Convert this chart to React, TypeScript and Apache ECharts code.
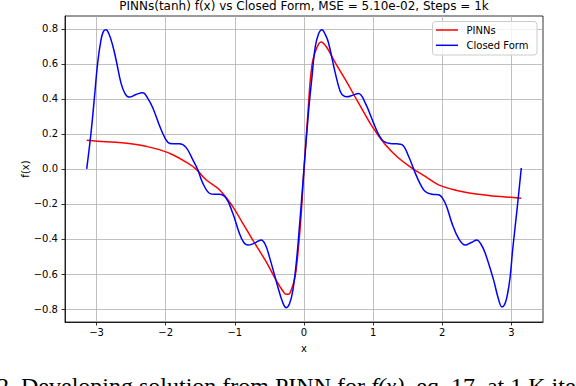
import React, { useEffect, useRef } from "react";
import * as echarts from "echarts";

const titleText = "PINNs(tanh) f(x) vs Closed Form, MSE = 5.10e-02, Steps = 1k";
const xTicks = [-3, -2, -1, 0, 1, 2, 3];
const yTicks = [-0.8, -0.6, -0.4, -0.2, 0, 0.2, 0.4, 0.6, 0.8];
const legendNames = ["PINNs", "Closed Form"];
const yAxisName = "f(x)";

const closedFormX = [
  -3.142, -3.08, -3.033, -2.983, -2.936, -2.9, -2.863, -2.82, -2.77, -2.719, -2.646, -2.588, -2.526,
  -2.429, -2.332, -2.255, -2.187, -2.067, -1.97, -1.894, -1.802, -1.706, -1.609, -1.536, -1.464,
  -1.368, -1.29, -1.224, -1.127, -1.03, -0.934, -0.87, -0.813, -0.721, -0.62, -0.562, -0.5, -0.378,
  -0.31, -0.258, -0.21, -0.161, -0.11, -0.066, 0, 0.066, 0.114, 0.161, 0.21, 0.258, 0.31, 0.354,
  0.451, 0.523, 0.58, 0.62, 0.7, 0.788, 0.885, 1.005, 1.075, 1.15, 1.271, 1.34, 1.416, 1.512, 1.609,
  1.68, 1.753, 1.85, 1.946, 2.043, 2.14, 2.235, 2.332, 2.42, 2.501, 2.56, 2.622, 2.742, 2.81, 2.863,
  2.9, 2.935, 2.98, 3.017, 3.08, 3.142,
];
const closedFormY = [
  0.0, 0.205, 0.397, 0.607, 0.735, 0.785, 0.794, 0.77, 0.71, 0.626, 0.49, 0.43, 0.41, 0.425, 0.435,
  0.4, 0.349, 0.225, 0.152, 0.143, 0.144, 0.123, 0.053, -0.005, -0.081, -0.139, -0.145, -0.145,
  -0.167, -0.253, -0.368, -0.42, -0.435, -0.425, -0.406, -0.43, -0.502, -0.674, -0.76, -0.792, -0.77,
  -0.693, -0.53, -0.33, 0.0, 0.33, 0.52, 0.693, 0.77, 0.794, 0.765, 0.72, 0.55, 0.444, 0.415, 0.412,
  0.42, 0.431, 0.377, 0.263, 0.2, 0.158, 0.144, 0.143, 0.139, 0.072, -0.024, -0.085, -0.129, -0.145,
  -0.148, -0.196, -0.311, -0.397, -0.435, -0.42, -0.406, -0.43, -0.483, -0.635, -0.74, -0.788, -0.775,
  -0.731, -0.62, -0.463, -0.234, 0.005,
];

const pinnsX = [
  -3.142, -2.983, -2.719, -2.477, -2.284, -2.092, -1.898, -1.706, -1.561, -1.416, -1.223, -1.03,
  -0.885, -0.74, -0.548, -0.403, -0.3, -0.258, -0.22, -0.186, -0.15, -0.114, -0.05, 0, 0.05, 0.114,
  0.186, 0.248, 0.33, 0.451, 0.596, 0.788, 0.982, 1.174, 1.367, 1.561, 1.753, 1.946, 2.14, 2.332,
  2.525, 2.718, 2.911, 3.142,
];
const pinnsY = [
  0.163, 0.158, 0.152, 0.142, 0.129, 0.11, 0.081, 0.039, -0.001, -0.062, -0.119, -0.215, -0.311,
  -0.406, -0.53, -0.635, -0.7, -0.716, -0.715, -0.693, -0.65, -0.578, -0.31, 0.0, 0.28, 0.59, 0.693,
  0.725, 0.693, 0.607, 0.511, 0.377, 0.244, 0.139, 0.062, 0.005, -0.043, -0.091, -0.116, -0.133,
  -0.145, -0.154, -0.16, -0.167,
];

const captionText = "2. Developing solution from PINN for {i|f(x)}, eq. 17, at 1 K iterations";

const FONT = "DejaVu Sans";
const minus = (s: string) => s.replace("-", "\u2212");

export default function App() {
  const ref = useRef<HTMLDivElement>(null);
  useEffect(() => {
    if (!ref.current) return;
    const chart = echarts.init(ref.current, null, { renderer: "svg" });
    const pinnsData = pinnsX.map((x, i) => [x, pinnsY[i]]);
    const cfData = closedFormX.map((x, i) => [x, closedFormY[i]]);
    chart.setOption({
      animation: false,
      backgroundColor: "#ffffff",
      grid: {
        left: 65,
        top: 16,
        width: 478,
        height: 306,
        show: true,
        borderColor: "#000000",
        borderWidth: 0.8,
        backgroundColor: "transparent",
      },
      xAxis: {
        type: "value",
        min: -3.456,
        max: 3.456,
        name: "x",
        nameLocation: "middle",
        nameGap: 21,
        nameTextStyle: { fontFamily: FONT, fontSize: 10, color: "#000" },
        axisLine: { onZero: false, lineStyle: { color: "#000", width: 0.8 } },
        axisTick: { show: true, length: 3.5, customValues: xTicks, lineStyle: { color: "#000", width: 0.8 } },
        axisLabel: {
          customValues: xTicks,
          margin: 5,
          fontFamily: FONT,
          fontSize: 10,
          color: "#000",
          formatter: (v: number) => minus(String(Math.round(v))),
        },
        splitLine: { show: true, lineStyle: { color: "#b0b0b0", width: 0.8 } },
      },
      yAxis: {
        type: "value",
        min: -0.874,
        max: 0.873,
        axisLine: { onZero: false, lineStyle: { color: "#000", width: 0.8 } },
        axisTick: { show: true, length: 3.5, customValues: yTicks, lineStyle: { color: "#000", width: 0.8 } },
        axisLabel: {
          customValues: yTicks,
          margin: 7,
          fontFamily: FONT,
          fontSize: 10,
          color: "#000",
          formatter: (v: number) => minus(v.toFixed(1)),
        },
        splitLine: { show: true, lineStyle: { color: "#b0b0b0", width: 0.8 } },
      },
      series: [
        {
          name: legendNames[0],
          type: "line",
          data: pinnsData,
          showSymbol: false,
          smooth: 0.4,
          lineStyle: { color: "#ff0000", width: 1.5 },
          itemStyle: { color: "#ff0000" },
        },
        {
          name: legendNames[1],
          type: "line",
          data: cfData,
          showSymbol: false,
          smooth: 0.4,
          lineStyle: { color: "#0000ff", width: 1.5 },
          itemStyle: { color: "#0000ff" },
        },
      ],
      graphic: [
        {
          type: "text",
          x: 304,
          y: 6,
          z: 100,
          style: {
            text: titleText,
            fontFamily: FONT,
            fontSize: 12,
            fill: "#000",
            textAlign: "center",
            textVerticalAlign: "middle",
          },
        },
        {
          type: "text",
          x: 25.5,
          y: 169,
          rotation: Math.PI / 2,
          z: 100,
          style: {
            text: yAxisName,
            fontFamily: FONT,
            fontSize: 10,
            fill: "#000",
            textAlign: "center",
            textVerticalAlign: "middle",
          },
        },
        {
          type: "rect",
          z: 100,
          shape: { x: 432.5, y: 21.5, width: 104.5, height: 33.5, r: 3 },
          style: { fill: "rgba(255,255,255,0.8)", stroke: "#cccccc", lineWidth: 1 },
        },
        {
          type: "line",
          z: 101,
          shape: { x1: 436, y1: 30, x2: 458, y2: 30 },
          style: { stroke: "#ff0000", lineWidth: 1.5 },
        },
        {
          type: "line",
          z: 101,
          shape: { x1: 436, y1: 45.3, x2: 458, y2: 45.3 },
          style: { stroke: "#0000ff", lineWidth: 1.5 },
        },
        {
          type: "text",
          x: 466.5,
          y: 30,
          z: 101,
          style: { text: legendNames[0], fontFamily: FONT, fontSize: 10, fill: "#000", textVerticalAlign: "middle" },
        },
        {
          type: "text",
          x: 466.5,
          y: 45.3,
          z: 101,
          style: { text: legendNames[1], fontFamily: FONT, fontSize: 10, fill: "#000", textVerticalAlign: "middle" },
        },
        {
          type: "text",
          x: -3,
          y: 386,
          z: 101,
          style: {
            text: captionText,
            fontFamily: "Liberation Serif",
            fontSize: 24,
            fill: "#000",
            textVerticalAlign: "middle",
            rich: { i: { fontFamily: "Liberation Serif", fontSize: 24, fontStyle: "italic", fill: "#000" } },
          },
        },
      ],
    });
    return () => chart.dispose();
  }, []);
  return (
    <div
      ref={ref}
      style={{ position: "fixed", left: 0, top: 0, width: 576, height: 386, background: "#fff" }}
    />
  );
}
